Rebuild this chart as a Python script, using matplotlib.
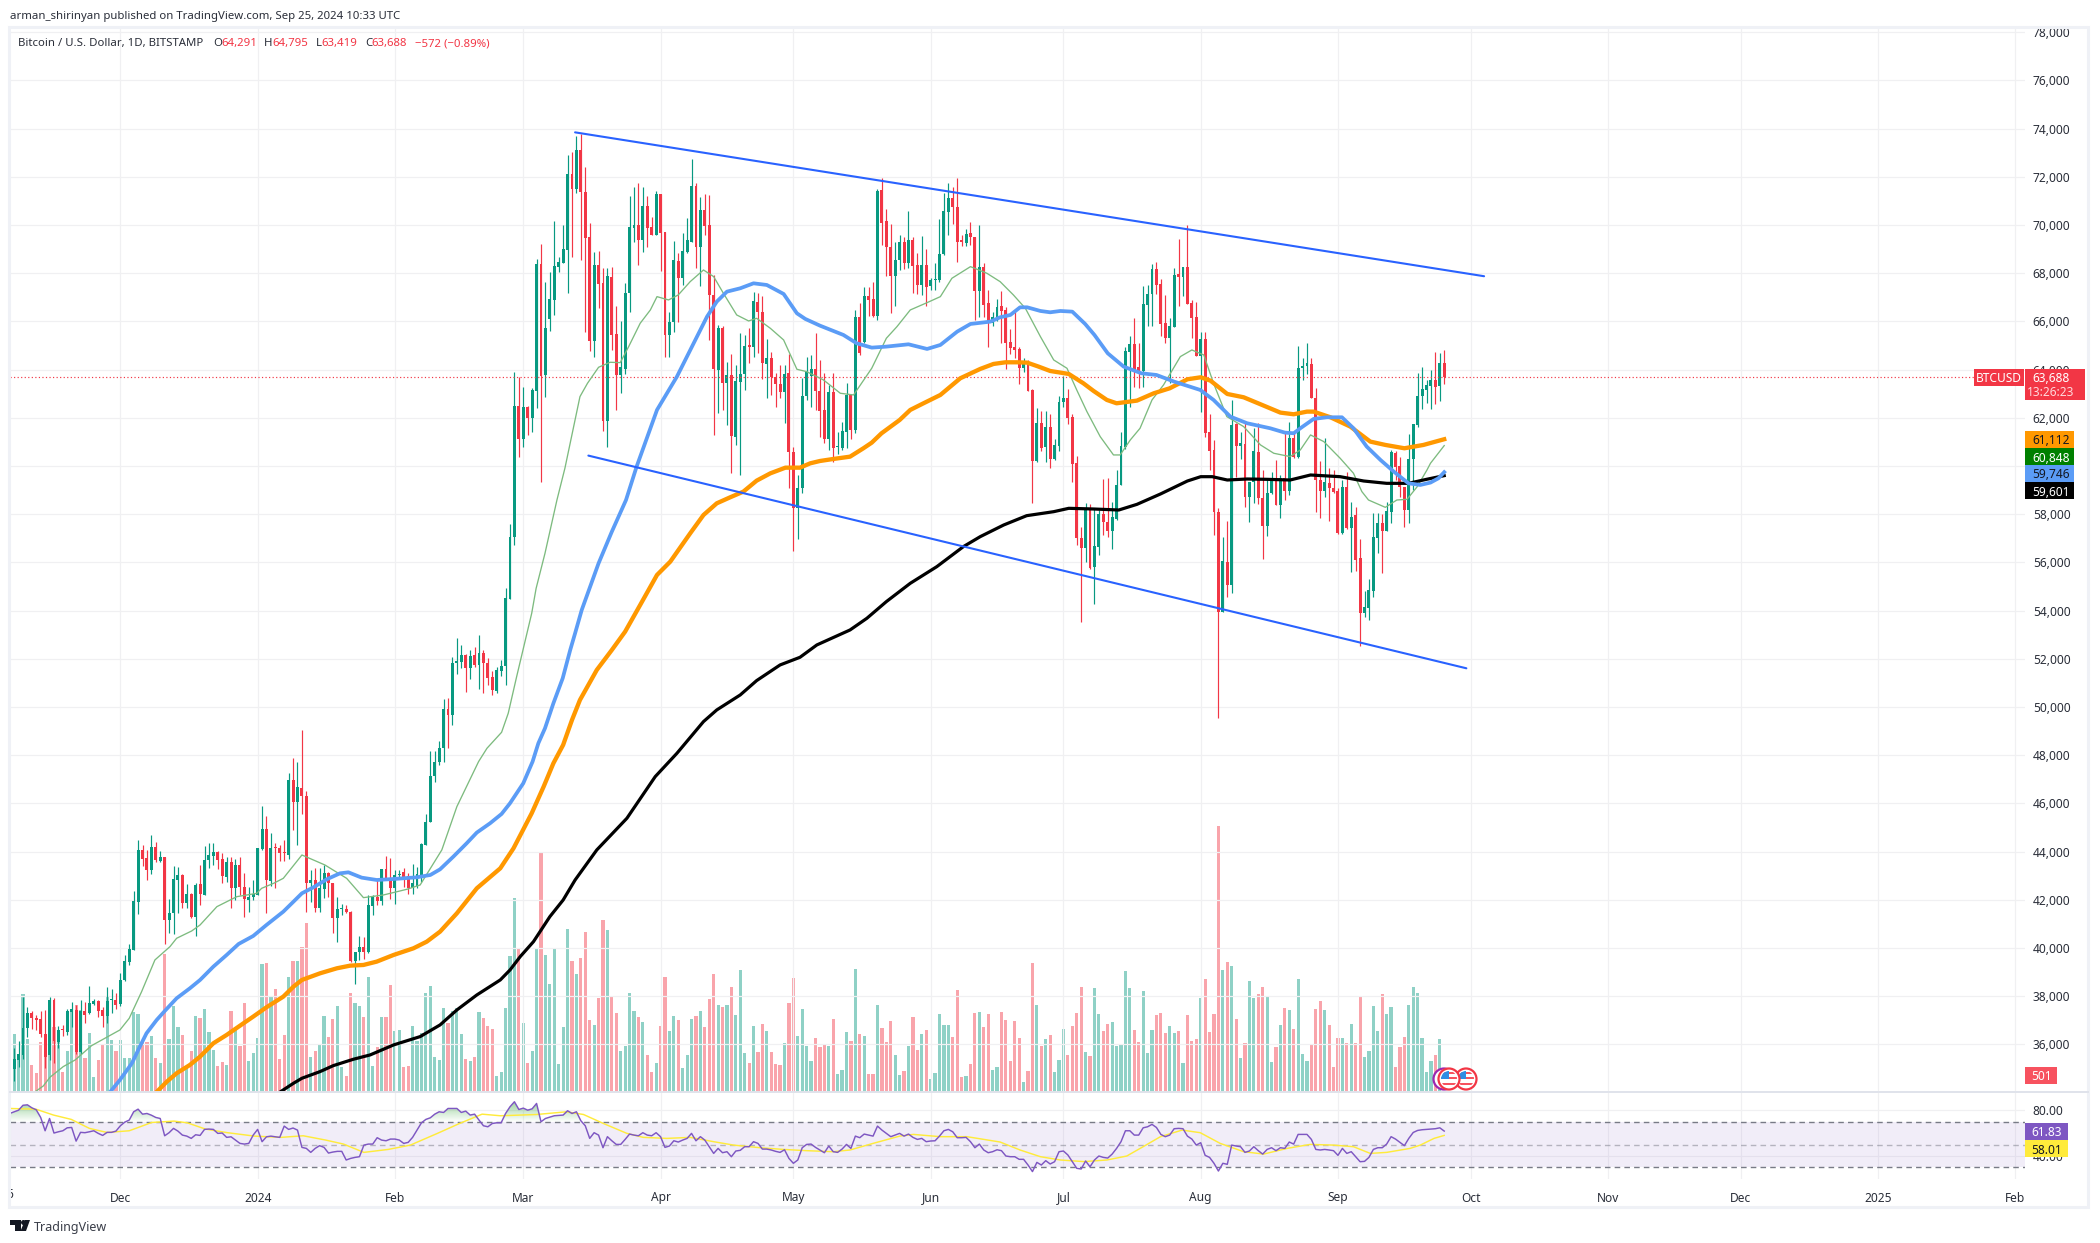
#!/usr/bin/env python
import numpy as np
import matplotlib
matplotlib.use('Agg')
import matplotlib.pyplot as plt
from matplotlib.patches import Rectangle, Circle, Polygon
from matplotlib.path import Path
from matplotlib.transforms import IdentityTransform
from matplotlib.ticker import FuncFormatter

plt.rcParams['font.family'] = ['Noto Sans', 'DejaVu Sans']

# day numbers count from 1 Dec 2023, rows are open, high, low, close
ohlc_nov23 = [
    [34990, 35840, 34490, 35380], [35350, 36150, 35080, 35600], [35560, 37980, 35380, 36670], [36670, 37565, 36320, 37290],
    [37290, 37400, 36650, 37080], [37095, 37220, 36600, 37010], [37050, 37385, 36320, 36430], [36430, 37430, 35000, 35490],
    [35550, 37950, 35350, 37840], [37840, 37910, 35215, 36150], [36110, 36780, 35865, 36600], [36600, 36800, 36350, 36590],
    [36530, 37470, 36390, 37385], [37350, 37770, 36735, 37460], [37430, 37635, 35600, 35700], [35700, 37840, 35600, 37385],
    [37385, 37770, 36870, 37220], [37290, 38420, 37240, 37700], [37680, 37870, 37630, 37800], [37800, 37840, 37150, 37400],
    [37430, 37540, 36710, 37180], [37180, 38400, 36880, 37800], [37830, 38300, 37290, 37850], [37840, 38120, 37470, 37635],
]
ohlc_dec23 = [
    [37680, 38950, 37610, 38670], [38650, 39710, 38620, 39446], [39430, 40165, 39300, 39940], [39915, 42350, 39915, 41936],
    [41920, 44480, 41410, 44065], [44065, 44260, 43415, 43690], [43720, 44065, 42820, 43235], [43235, 44690, 43070, 44190],
    [44190, 44410, 43580, 43650], [43620, 44020, 43580, 43760], [43760, 43790, 40165, 41160], [41160, 42020, 40635, 41440],
    [41440, 43400, 40580, 42850], [42820, 43375, 41440, 43030], [43030, 43070, 41645, 41880], [41880, 42655, 41645, 42230],
    [42230, 42300, 41260, 41300], [41300, 42680, 40510, 42610], [42640, 43440, 41780, 42230], [42200, 44240, 42200, 43640],
    [43650, 44340, 43300, 43860], [43820, 44370, 43440, 44000], [44000, 44030, 43280, 43650], [43690, 43930, 42710, 42990],
    [42960, 43790, 42720, 43570], [43570, 43760, 41645, 42475], [42475, 43680, 41990, 43440], [43440, 43760, 42200, 42520],
    [42540, 43100, 41300, 42020], [42000, 42540, 41500, 42130], [42100, 42820, 41990, 42230],
]
ohlc_jan24 = [
    [42200, 44130, 42200, 44130], [44110, 45890, 44070, 44940], [44940, 45475, 41440, 42820], [42790, 44760, 42570, 44130],
    [44190, 44370, 42500, 44130], [44160, 44290, 43620, 43950], [43970, 44480, 43600, 43930], [43860, 47250, 43700, 46970],
    [46960, 47870, 44900, 46070], [46070, 47720, 44275, 46670], [46630, 49050, 45560, 46320], [46300, 46520, 41500, 42680],
    [42680, 43235, 41920, 42820], [42820, 43305, 41500, 41670], [41645, 43305, 41500, 42475], [42435, 43440, 42060, 43125],
    [43125, 43170, 42130, 42680], [42680, 42710, 40610, 41230], [41230, 42100, 40260, 41600], [41600, 41810, 41370, 41650],
    [41620, 41790, 41440, 41480], [41510, 41540, 39430, 39460], [39460, 39850, 38500, 39820], [39820, 40500, 39500, 40030],
    [40030, 40470, 39530, 39850], [39850, 42200, 39780, 41770], [41755, 42200, 41370, 42100], [42100, 42820, 41780, 41960],
    [41960, 43280, 41780, 43280], [43280, 43820, 42830, 42860], [42890, 43720, 42020, 42500],
]
ohlc_feb24 = [
    [42500, 43235, 41825, 43030], [43030, 43235, 42890, 43060], [43165, 43330, 42520, 42890], [42990, 43130, 42240, 42475],
    [42475, 43470, 42240, 42680], [42560, 43375, 42470, 43070], [42990, 44340, 42750, 44315], [44275, 45560, 44270, 45245],
    [45245, 48180, 45245, 47140], [47140, 48180, 46900, 47730], [47730, 48590, 47595, 48290], [48290, 50330, 47730, 49920],
    [49920, 50360, 48315, 49670], [49670, 52090, 49250, 51840], [51840, 52850, 51370, 51910], [51880, 52570, 51630, 52160],
    [52160, 52190, 50640, 51630], [51630, 52370, 51160, 52120], [52160, 52490, 51670, 51750], [51750, 52990, 50750, 52230],
    [52230, 52370, 50600, 51810], [51810, 52020, 50915, 51220], [51230, 51490, 50500, 50700], [50680, 51650, 50600, 51540],
    [51510, 51950, 51300, 51700], [51720, 54940, 50915, 54510], [54500, 57590, 54480, 57040], [57040, 63900, 56720, 62500],
    [62500, 63680, 60390, 61125],
]
ohlc_mar24 = [
    [61125, 63300, 60770, 62440], [62440, 62500, 61290, 62010], [62010, 63255, 61430, 63160], [63130, 68580, 62400, 68370],
    [68370, 69215, 59320, 63750], [63780, 67625, 62850, 65720], [66100, 68040, 65620, 66920], [66890, 70170, 66270, 68300],
    [68275, 68660, 68070, 68455], [68440, 70000, 68420, 68995], [68965, 72910, 67170, 72120], [72120, 73045, 68660, 71480],
    [71480, 73700, 71345, 73115], [73115, 73780, 68550, 71360], [71360, 72420, 65580, 69480], [69490, 70070, 64790, 65205],
    [65205, 68900, 64540, 68340], [68340, 68940, 66570, 67555], [67580, 68200, 61470, 61885], [61885, 68200, 60770, 67890],
    [67830, 68275, 64820, 65440], [65480, 66640, 62330, 63780], [63780, 66020, 63050, 64100], [64040, 67580, 63820, 67200],
    [67200, 71205, 66410, 69905], [69865, 71595, 69285, 70000], [70000, 71730, 68345, 69380], [69380, 71595, 68900, 70790],
    [70790, 71205, 69105, 69890], [69905, 70320, 69580, 69590], [69590, 71415, 69580, 71290],
]
ohlc_apr24 = [
    [71290, 71300, 68110, 69685], [69700, 69710, 64540, 65440], [65440, 66410, 64540, 65990], [65965, 69340, 65580, 68550],
    [68510, 68830, 65990, 67820], [67820, 69660, 67515, 68925], [68895, 70310, 68855, 69380], [69310, 72730, 69300, 71620],
    [71620, 71760, 68235, 69105], [69075, 71150, 67490, 70625], [70625, 71290, 69590, 69960], [69990, 71250, 65230, 67100],
    [67100, 67930, 61290, 64040], [63990, 65855, 62190, 65720], [65720, 65830, 62330, 63430], [63430, 64330, 61705, 63780],
    [63780, 64650, 59700, 61265], [61220, 64195, 60880, 63530], [63500, 65510, 59630, 63830], [63830, 65440, 63160, 64985],
    [65000, 65720, 64260, 64960], [64930, 67240, 64540, 66850], [66825, 67170, 64680, 66410], [66380, 67060, 63600, 64260],
    [64235, 65260, 62810, 64470], [64470, 64750, 62950, 63710], [63710, 63850, 62440, 63405], [63405, 64195, 62810, 63090],
    [63090, 64195, 61775, 63810], [63850, 64650, 59075, 60600],
]
ohlc_may24 = [
    [60600, 60775, 56490, 58245], [58245, 59630, 56960, 59075], [59075, 63640, 58870, 62910], [62910, 64510, 62740, 63890],
    [63740, 64610, 62465, 64010], [64015, 65510, 62330, 63130], [63130, 64400, 61220, 62300], [62330, 63880, 60945, 61125],
    [61125, 63365, 60670, 63075], [63075, 63850, 60185, 60740], [60790, 61430, 60490, 60820], [60765, 61840, 60670, 61460],
    [61430, 63435, 60740, 62950], [62950, 63000, 61120, 61495], [61495, 66480, 61360, 66200], [66200, 66750, 64610, 64680],
    [65165, 67445, 65120, 67060], [67060, 67420, 66240, 66890], [66920, 67625, 66200, 66240], [66225, 71500, 66060, 71415],
    [71455, 71940, 69170, 70100], [70155, 70655, 67900, 69105], [69105, 70045, 66370, 67900], [67900, 69285, 66640, 68550],
    [68550, 69590, 68135, 69285], [69285, 69520, 68165, 68440], [68440, 70585, 68205, 69380], [69380, 69520, 67170, 68315],
    [68345, 68830, 67140, 67515], [67515, 69550, 67100, 68345], [68345, 68995, 66660, 67445],
]
ohlc_jun24 = [
    [67475, 67790, 67310, 67720], [67720, 68415, 67310, 67750], [67720, 70250, 67625, 68785], [68785, 71315, 68770, 70585],
    [70555, 71730, 69590, 71110], [71110, 71595, 70045, 70735], [70765, 71940, 68480, 69310], [69340, 69590, 69130, 69310],
    [69270, 69825, 69130, 69620], [69660, 70140, 69175, 69490], [69490, 69500, 66060, 67280], [67280, 70000, 66200, 68245],
    [68245, 68415, 66200, 66685], [66755, 67305, 64960, 65950], [65950, 66410, 65810, 66170], [66170, 66920, 66035, 66615],
    [66640, 67265, 65090, 66450], [66475, 66600, 64030, 65120], [65135, 65690, 64640, 64915], [64930, 66435, 64470, 64815],
    [64845, 64955, 63400, 64070], [64070, 64470, 63920, 64235], [64235, 64400, 63130, 63130], [63160, 63180, 58480, 60225],
    [60225, 62400, 60180, 61775], [61775, 62300, 60640, 60760], [60805, 62300, 60180, 61610], [61610, 62160, 59935, 60280],
    [60280, 61110, 60260, 60875], [60835, 62910, 60640, 62645],
]
ohlc_jul24 = [
    [62645, 63750, 62465, 62810], [62810, 63185, 61745, 62010], [62050, 62160, 59350, 60090], [60140, 60420, 56720, 57030],
    [57000, 57450, 53540, 56610], [56610, 58480, 56030, 58270], [58270, 58425, 55740, 55755], [55825, 58245, 54275, 56680],
    [56655, 58175, 56310, 58010], [58010, 59460, 57140, 57690], [57690, 59490, 57070, 57305], [57305, 58520, 56560, 57870],
    [57790, 59840, 57760, 59210], [59215, 61400, 59210, 60835], [60805, 64955, 60695, 64775], [64750, 65395, 62465, 65065],
    [65065, 66130, 63300, 63990], [64125, 65095, 63225, 63920], [63945, 67470, 63300, 66710], [66685, 67515, 65825, 67125],
    [67140, 68370, 65825, 68180], [68180, 68470, 67125, 67515], [67555, 67760, 65410, 65895], [65925, 67100, 65120, 65300],
    [65330, 66130, 63435, 65815], [65785, 68205, 65760, 67915], [67955, 69410, 66640, 67860], [67830, 68275, 67060, 68275],
    [68245, 70000, 66725, 66725], [66755, 66890, 65330, 66160], [66185, 66795, 64570, 64570],
]
ohlc_aug24 = [
    [64570, 65550, 62260, 65275], [65275, 65550, 61220, 61390], [61400, 62160, 59840, 60625], [60665, 61080, 57140, 58105],
    [58105, 58245, 49560, 53960], [53960, 57040, 53960, 56060], [56005, 57720, 54580, 55065], [55065, 62740, 54745, 61705],
    [61745, 61790, 59560, 60850], [60835, 61430, 60280, 60945], [60920, 61840, 58315, 58700], [58700, 59350, 57690, 59320],
    [59320, 61565, 58480, 60625], [60585, 61775, 58440, 58660], [58660, 59840, 56140, 57525], [57525, 59500, 57110, 58865],
    [58865, 59770, 58840, 59490], [59490, 60250, 58380, 58395], [58385, 59630, 57860, 59490], [59490, 61430, 58590, 58975],
    [58975, 61815, 58800, 61150], [61150, 61430, 60340, 60365], [60365, 64980, 60340, 64055], [64075, 64500, 63575, 64150],
    [64165, 65090, 63820, 64265], [64220, 64470, 62820, 62840], [62810, 63225, 58105, 59420], [59420, 60225, 57860, 58975],
    [58975, 61150, 58730, 59350], [59310, 59905, 57730, 59075], [59075, 59835, 58890, 58935],
]
ohlc_sep24 = [
    [58980, 59075, 57180, 57235], [57235, 59420, 57180, 59115], [59115, 59765, 57370, 57415], [57415, 58495, 55615, 57900],
    [57970, 58285, 55645, 56100], [56170, 56960, 52547, 53890], [53890, 54815, 53750, 54135], [54120, 55300, 53610, 54855],
    [54830, 58035, 54580, 57040], [57030, 58035, 56405, 57620], [57620, 58010, 55575, 57320], [57320, 58520, 57300, 58150],
    [58105, 60665, 57650, 60600], [60530, 60625, 59420, 59970], [60005, 60390, 58730, 59115], [59115, 59145, 57485, 58175],
    [58175, 61310, 57650, 60280], [60280, 61745, 59010, 61745], [61705, 63850, 61640, 62925], [62925, 64100, 62370, 63185],
    [63160, 63570, 62605, 63350], [63340, 63985, 62370, 63575], [63575, 64720, 62560, 63295], [63325, 64710, 62715, 64280],
    [64291, 64795, 63419, 63688],
]

vol_a = [174, 110, 294, 158, 81, 56, 150, 174, 226, 196, 156, 61, 124, 246, 261, 246, 101, 176, 46, 96, 144, 286, 156, 123,
         156, 101, 103, 240, 234, 156, 151, 168, 103, 88, 414, 159, 258, 196, 171, 76, 124, 228, 221, 249, 180, 126, 78, 91,
         81, 244, 196, 138, 268, 94, 118, 162, 384, 387, 286, 309, 99, 171, 346, 393, 393, 436, 508, 106, 123, 141, 228, 165,
         219, 258, 76, 48, 298, 268, 258, 225, 346, 78, 135, 225, 225, 321, 184, 186, 76, 78, 198, 154, 176, 298, 318, 106,
         96, 252, 208, 243, 252, 174, 99, 93, 105, 240, 221, 198, 188, 48]
vol_b = [61, 251, 408, 582, 429, 206, 87, 123, 429, 717, 411, 324, 429, 84, 195, 489, 393, 354, 402, 480, 216, 201, 282, 516,
         486, 288, 237, 123, 138, 297, 243, 225, 210, 111, 60, 87, 198, 345, 183, 228, 216, 72, 111, 219, 228, 243, 195, 279,
         354, 261, 255, 261, 315, 231, 366, 117, 87, 198, 120, 204, 183, 120, 84, 81, 147, 267, 342, 168, 249, 138, 93, 162,
         135, 144, 138, 219, 54, 66, 180, 153, 369, 174, 168, 54, 54, 261, 192, 150, 213, 111, 51, 63, 138, 225, 126, 174,
         186, 39, 57, 234, 201, 201, 165, 306, 45, 48, 84, 237, 240, 195, 234, 66, 75]
vol_c = [240, 216, 93, 213, 162, 30, 63, 387, 261, 138, 159, 171, 60, 96, 189, 111, 198, 237, 315, 120, 108, 312, 234, 183,
         204, 210, 138, 144, 363, 312, 186, 150, 303, 117, 186, 231, 237, 177, 198, 177, 183, 87, 231, 153, 159, 282, 339,
         180, 234, 798, 366, 390, 378, 219, 102, 147, 333, 282, 294, 315, 288, 90, 135, 201, 252, 246, 189, 339, 114, 93,
         144, 249, 273, 246, 201, 75, 162, 162, 147, 204, 147, 288, 105, 123, 258, 183, 294, 234, 255, 75, 135, 165, 261,
         315, 297, 162, 60, 93, 111, 159, 3]
vol_side_a = ('ggggrrrrgrgrggrgrggrrggr' 'gggggrrgrgrgggrgrgrgggrr' 'grgrrggggrgrrrgrgrrgrggr' 'rggrrggrggrgrrggrrgggggg' 'ggrgggrgrgrrrg')
vol_side_b = ('ggggrgrggrggggggrgrrrgrr' 'grrggggrgrrgrrggrgggrgrr' 'rgrgrgggrgrrgrrrgrrggggr' 'rrgrgggrgrgrrgrrrggrgrrg' 'rgggggrrrgrrgrrgg')
vol_side_c = ('rrrrrgrrgrgrgggrrrrgrggr' 'rgggggrrgggrrrggrgrrrgrr' 'rrgrgrgrggrrggrgrgrgggrr' 'rgrrrgrgrrggggrggrrrgggg' 'ggrgr')

days_ma_blue = [-2.3, -0.1, 2.6, 4.4, 5.9, 8.2, 10.1, 12.7, 15.7, 18, 21, 24, 26.7, 30, 33, 36.8, 39.1, 41, 43.6, 46.6, 49.6,
                51.5, 54.5, 57.9, 61.7, 66.9, 70, 72.2, 75.2, 78.2, 80.5, 83.5, 86.1, 88, 91, 93.1, 94.4, 95.9, 97.8, 99.9,
                101.6, 102.7, 104.2, 106.1, 108, 111, 114.2, 116.6, 121.2, 125.7, 129.1, 132.5, 134.7, 137, 140, 143, 146,
                149.8, 152.8, 154.7, 158, 163.3, 166.3, 169.7, 173, 178, 182.2, 185.2, 189, 192, 196.5, 198.7, 201, 203.2,
                204.8, 207.8, 210, 212.3, 215, 217.9, 220, 223, 226.6, 230.6, 234, 238, 243.9, 246.9, 250.7, 254.5, 259.7,
                263, 265, 266.5, 269.5, 272.5, 275.9, 278.5, 281.5, 284.6, 287.6, 290.9, 293.6, 295.9, 297.7, 299]
ma_blue = [34025, 34523, 35214, 35906, 36459, 37012, 37399, 37911, 38326, 38672, 39225, 39709, 40165, 40497, 40954, 41507, 41922,
           42268, 42517, 42848, 43097, 43139, 42918, 42821, 42862, 42931, 43028, 43263, 43789, 44342, 44788, 45175, 45562,
           46005, 46835, 47733, 48494, 49116, 50154, 51191, 52366, 53058, 54026, 54994, 55962, 57276, 58590, 59977, 62328,
           63711, 64956, 66200, 66823, 67238, 67376, 67583, 67514, 67141, 66338, 66104, 65827, 65440, 65094, 64914, 64956,
           65052, 64859, 65025, 65578, 65896, 65993, 66173, 66269, 66587, 66587, 66435, 66380, 66435, 66407, 65896, 65440,
           64679, 64125, 63849, 63780, 63503, 63157, 62743, 62050, 61775, 61567, 61387, 61360, 61567, 61955, 62023, 62023,
           61567, 60806, 60253, 59770, 59285, 59215, 59313, 59493, 59746]

days_ma_orange = [8.2, 10.5, 12.7, 15.7, 18, 21, 24, 27.8, 30, 33, 36.8, 39.1, 41, 45.1, 48.9, 51.9, 54.9, 57.9, 61.7, 66.2, 69.2,
                  72.2, 76, 80.5, 85.8, 88.8, 92.9, 95.6, 97.8, 100, 102, 103.8, 107.6, 111, 114, 117.4, 121.2, 124.2, 128.7,
                  131.7, 134.7, 137.7, 140.7, 143.7, 146.8, 150.2, 153.5, 155.8, 158, 161, 164.8, 167.8, 169.7, 171.9, 176,
                  178.4, 181.4, 185.2, 189.7, 194.2, 197.2, 199.9, 202.5, 204.8, 207.4, 210, 214.2, 217.5, 219.8, 222.8, 225,
                  229.6, 233.4, 237, 241, 244, 246.2, 250, 253.7, 257.5, 262, 265, 268, 269.5, 273.3, 277.8, 282.3, 285.7,
                  290, 294.3, 299]
ma_orange = [34025, 34453, 34799, 35145, 35491, 36044, 36390, 36874, 37150, 37538, 37980, 38395, 38672, 38948, 39156, 39266, 39294,
             39433, 39709, 39986, 40262, 40677, 41438, 42475, 43305, 44138, 45590, 46696, 47665, 48425, 49462, 50292, 51537,
             52366, 53127, 54234, 55479, 56032, 57208, 57968, 58453, 58700, 58937, 59393, 59697, 59932, 59932, 60112, 60209,
             60292, 60389, 60735, 60970, 61357, 61910, 62328, 62605, 62950, 63642, 64029, 64236, 64305, 64305, 64291, 64125,
             63945, 63821, 63434, 63116, 62743, 62604, 62715, 63019, 63226, 63600, 63683, 63544, 62991, 62853, 62563, 62217,
             62148, 62258, 62258, 62023, 61636, 61014, 60876, 60737, 60875, 61112]

days_ma_black = [36.1, 39.1, 41, 45.1, 48.1, 52.6, 56.4, 61.7, 67.7, 72.2, 76, 80.5, 85.8, 88, 90.3, 93.3, 97, 100, 102.7, 107.6,
                 114.4, 120.8, 125.7, 131.7, 134.7, 140, 143.7, 149, 153.5, 157.3, 164.8, 168.6, 173, 178.4, 184.4, 190.4,
                 194.2, 199.5, 204.7, 210.8, 214.2, 219.8, 225.5, 229.6, 234.9, 241, 244, 246.6, 250, 254.5, 259, 264.2,
                 268.8, 275.5, 280.8, 286, 290.9, 295, 299]
ma_black = [34025, 34385, 34592, 34869, 35117, 35380, 35560, 35975, 36321, 36805, 37427, 38049, 38672, 39086, 39639, 40262, 41299,
            41990, 42820, 44068, 45382, 47111, 48079, 49394, 49878, 50500, 51095, 51745, 52063, 52575, 53197, 53681, 54373,
            55133, 55825, 56655, 57069, 57553, 57940, 58106, 58245, 58217, 58175, 58410, 58839, 59379, 59558, 59558, 59420,
            59462, 59448, 59420, 59628, 59558, 59379, 59282, 59282, 59448, 59601]

days_ma_green = [-19.3, -17.4, -15.9, -12.9, -10.2, -6.5, -0.1, 2, 4.8, 7.8, 11.2, 12.7, 16.1, 18, 21.8, 24.8, 26.3, 30.8, 31.9,
                 34.6, 36.8, 41, 46.2, 51.1, 54.9, 59.4, 64.7, 67.7, 72.6, 76, 80.9, 82.8, 86.1, 87.6, 89.5, 92.9, 93.9, 95.9,
                 98.6, 100.4, 103.8, 105.5, 108, 110.6, 112.9, 114.8, 117.4, 119.7, 121.2, 123.8, 126, 128.7, 131.7, 134,
                 136.2, 139.2, 141.9, 143.7, 146.8, 149.8, 152.8, 155, 158.8, 162.6, 165.6, 169.7, 173, 175.4, 178.4, 182.2,
                 185.2, 187.8, 192, 195.7, 198.7, 201.7, 204.4, 207.8, 210.8, 213.8, 216, 218.3, 221.3, 224.3, 225.8, 228.1,
                 230.3, 233, 235.6, 239.4, 242, 244.7, 246.9, 249.9, 253.7, 257.5, 260.5, 264.2, 266.5, 268.8, 271.8, 275.5,
                 278.5, 280.4, 281.9, 285.7, 288.3, 290.6, 292.9, 295.1, 295.9, 299]
ma_green = [34025, 34274, 34634, 35076, 35353, 35947, 36597, 37081, 38188, 39502, 40055, 40401, 40705, 40954, 41714, 41991, 42129,
            42267, 42475, 42682, 42890, 43858, 43443, 42890, 42088, 42198, 42434, 42613, 44068, 45866, 47733, 48287, 48950,
            49739, 51260, 53888, 54925, 56377, 58590, 59908, 62881, 63434, 64098, 64306, 64292, 64956, 65924, 66477, 67030,
            66892, 67100, 67653, 68137, 67860, 67168, 66270, 66020, 66131, 65716, 65232, 64015, 63918, 63573, 63020, 62950,
            64057, 65302, 65786, 66477, 66781, 67030, 67791, 68275, 68000, 67652, 67099, 66546, 65370, 64402, 64056, 63157,
            62258, 61221, 60460, 60460, 61083, 61567, 62743, 63365, 64541, 64817, 64610, 63434, 62051, 61636, 60876, 60530,
            60391, 60668, 61290, 61014, 60322, 59700, 58939, 58590, 58286, 58590, 58618, 59143, 59835, 60115, 60848]

# trend channel, day and price of both ends
upper_days = [102.7, 308]
upper_prices = [73848, 67877]
lower_days = [105.7, 304]
lower_prices = [60433, 51606]

# RSI per day from 6 Nov 2023
rsi_values = [77.3, 78.8, 80.2, 84.5, 84.9, 82.3, 80.5, 73.8, 62.1, 72.9, 60.1, 61.2, 62.1, 64.7, 65, 53, 60.7, 60.4, 61.2, 62.1,
              59.8, 58, 60.7, 60.7, 61.8,
              66.5, 69.7, 71.5, 78.8, 81.1, 76.7, 77.3, 75.8, 73.8, 72.9, 57.7, 60.4, 64.2, 61.8, 58.3, 57.4, 55.4, 58.6, 58,
              63.3, 63.6, 63.3, 59.8, 60.1, 56.3, 56.8, 53.9, 51, 50.4, 51, 58.3, 63.3, 52.5, 56.8, 57.4, 56.8, 56.3, 66.2, 63.3,
              64.5, 62.7, 47.5, 46.6, 43.1, 46.6, 49, 47.5, 42.5, 43.4, 44, 44, 36.4, 37.8, 38.7, 39.3, 49.5, 50.4, 50.4, 56,
              53.9, 53.3, 54.8, 54.8, 53.9, 51, 51.9, 56.3, 62.7, 69.1, 72.1, 73.5, 76.7, 78.8, 78.2, 81.7, 81.7, 81.7, 78.2,
              79.4, 75.9, 76.7, 71.5, 66.5, 65.6, 68.5, 69.1,
              69.1, 77.3, 83.2, 87.6, 80.8, 82, 80.2, 81.4, 86.1, 70, 72.9, 74.1, 75.3, 75.6, 75.9, 79.7, 77.3, 78.8, 70.9, 66.5,
              55.4, 60.4, 58.3, 47.2, 56.9, 53.3, 50.1, 50.1, 54.5, 59.2, 58.3, 57.7, 60.4, 58.3, 57.7, 60.4, 56.9, 47.5, 48.7,
              53.3, 52.2, 53.9, 55.4, 59.8, 53.3, 56.9, 53.9, 48.1, 42.2, 46.6, 42.8, 43.7, 39.3, 44.3, 44.9, 48.1, 48.1, 52.5,
              51, 46, 46, 45.2, 44, 43.1, 45.4, 37.8, 33.5, 36.4, 47.2, 50.1, 50.4, 47.5, 45.2, 42.8, 48.7, 43.7, 43.1, 46, 50.1,
              46.6, 57.4, 56, 59.2, 58.3, 57.4, 66.2, 62.7, 59.8, 56.9, 58.3, 59.8, 57.4, 59.2, 56.3, 54.5, 55.4, 52.5, 53.1,
              53.3, 57.4, 62.1, 63.3, 61.2, 56, 56, 56.3, 52.5, 47.2, 50.4, 45.2, 42.8, 43.7, 45.4,
              44.6, 39.9, 39.3, 39.3, 37, 37, 32, 26.2, 34.3, 32, 35.8, 32.9, 34.9, 43.7, 44.3, 40.8, 34.9, 29.1, 28.5, 35.5, 30.5,
              36.4, 39.9, 38.7, 38.1, 41.6, 46.6, 52.5, 62.1, 62.1, 58.3, 58.3, 64.7, 65.6, 67.7, 65, 58.9, 56.9, 58.3, 63.9, 64.2,
              63.9, 57.4, 54.8, 49.5, 51.6, 40.5, 38.7, 33.5, 26.7, 33.5, 32.6, 49.5, 48.7, 48.1, 43.1, 44.3, 48.1, 44.6, 41.6,
              45.7, 47.2, 44.6, 47.2, 46.6, 52.2, 50.4, 58.9, 58.9, 58.9, 54.5, 45.7, 45.2, 45.7, 45.2, 44.6, 40.5, 46.6, 42.2,
              43.7, 39.3, 34.9, 35.2, 38.7, 45.7, 47.2, 47.2, 50.4, 56.9, 54.8, 51.9, 49, 55.4, 60.6, 62.4, 63, 63.3, 63.6, 63.9,
              64.7, 61.83]

days_rsi_ma = [-25, -19.1, -15.1, -11.1, -7, -3, 2, 7.1, 12.1, 15.1, 19.2, 24.2, 30.3, 36.3, 41.3, 46.4, 50.4, 55, 60.5, 65.5, 71.6,
               76.6, 81.7, 85.8, 94, 100.8, 104.6, 109.1, 114.4, 118.1, 123.4, 128.7, 134, 138.5, 144.5, 149.8, 155, 161, 164.8,
               170, 176, 179.1, 185.2, 191.2, 198.7, 203.2, 207.8, 212.3, 217.6, 222.8, 227.3, 231, 234.9, 239.8, 243.9, 248.4,
               253.7, 258.2, 263.5, 268.7, 274, 278.5, 282.3, 286, 291.3, 293.6, 296.7, 299]
rsi_ma = [81.7, 81.1, 75.9, 72.1, 64.2, 60.6, 62.1, 69.4, 70.6, 69.1, 63.6, 60.4, 57.4, 56.3, 57.7, 53.9, 50.4, 43.1, 45.7, 49.5, 59.8,
          68.5, 76.7, 75.3, 76.4, 78.8, 76.4, 68.5, 59.8, 56.3, 55.4, 56.3, 52.5, 49.5, 47.2, 45.7, 44.6, 43.7, 45.2, 51, 57.4, 58.9,
          56.9, 56.9, 52.2, 45.2, 39.3, 36.4, 35, 36.4, 39.9, 48.1, 56.9, 62.7, 60.4, 51, 43.7, 41.6, 46.6, 50.1, 49.5, 48.1, 42.2,
          43.1, 46.6, 49.5, 55.4, 58.01]

time_tick_days = [0, 31, 62, 91, 122, 152, 183, 213, 244, 275, 305, 336, 366, 397, 428]
time_tick_labels = ['Dec', '2024', 'Feb', 'Mar', 'Apr', 'May', 'Jun', 'Jul', 'Aug', 'Sep', 'Oct', 'Nov', 'Dec', '2025', 'Feb']
price_ticks = list(range(36000, 80000, 2000))
rsi_ticks = [80, 40]

last_close = 63688
UP = '#089981'
DOWN = '#f23645'
TXT = '#2a2e39'
W, H = 2100, 1243


def rect(x0, y0, x1, y1):
    # pixel box, top left origin, as figure fractions
    return [x0 / W, 1 - y1 / H, (x1 - x0) / W, (y1 - y0) / H]


def box_label(x0, y0, x1, y1, color, txt, tcolor='white', tx=None):
    fig.add_artist(Rectangle((x0 / W, 1 - y1 / H), (x1 - x0) / W, (y1 - y0) / H, transform=fig.transFigure,
                             facecolor=color, edgecolor='none', zorder=6))
    fig.text((tx if tx else (x0 + x1) / 2) / W, 1 - (y0 + y1) / 2 / H, txt, color=tcolor, fontsize=8.6,
             ha='center', va='center_baseline', zorder=7)


def flag(cx, cy, r=10.5):
    y = H - cy
    ring = Circle((cx, y), r, transform=IdentityTransform(), facecolor='white', edgecolor='#f23645', linewidth=1.6, zorder=5)
    fig.add_artist(ring)
    for off in [-5, 1, 6]:
        s = Rectangle((cx - r, y + off - 1.3), 2 * r, 2.8, transform=IdentityTransform(), facecolor='#f7525f', edgecolor='none', zorder=5)
        fig.add_artist(s)
        s.set_clip_path(Circle((cx, y), r - 2.5, transform=IdentityTransform()))
    c = Rectangle((cx - r, y), r, r, transform=IdentityTransform(), facecolor='#2f8de4', edgecolor='none', zorder=5)
    fig.add_artist(c)
    c.set_clip_path(Circle((cx, y), r - 2.5, transform=IdentityTransform()))


ohlc = np.array(ohlc_nov23 + ohlc_dec23 + ohlc_jan24 + ohlc_feb24 + ohlc_mar24 + ohlc_apr24 + ohlc_may24 + ohlc_jun24 + ohlc_jul24
                + ohlc_aug24 + ohlc_sep24, dtype=float)
days = np.arange(-24, -24 + len(ohlc))

opens, highs, lows, closes = ohlc.T
vol = np.array(vol_a + vol_b + vol_c, dtype=float)
vol_side = vol_side_a + vol_side_b + vol_side_c
rsi = np.array(rsi_values)
rsi_days = np.arange(-25, -25 + len(rsi))

fig = plt.figure(figsize=(21, 12.43), dpi=100, facecolor='white')

XLIM = (-24.93, 430.06)
ax_vol = fig.add_axes(rect(10, 29, 2024.5, 1092), zorder=1)
ax = fig.add_axes(rect(10, 29, 2024.5, 1092), zorder=2)
ax_rsi = fig.add_axes(rect(10, 1093, 2024.5, 1179), zorder=2)
ax.patch.set_visible(False)

ax_vol.set_xlim(XLIM)
ax_vol.set_ylim(0, 3189)
ax_vol.axis('off')
vol_colors = [UP if s == 'g' else DOWN for s in vol_side]
ax_vol.bar(days, vol, width=0.72, color=vol_colors, alpha=0.45, linewidth=0)

ax.set_xlim(XLIM)
ax.set_ylim(34022, 78137)
ax.set_yticks(price_ticks)
ax.yaxis.tick_right()
ax.yaxis.set_major_formatter(FuncFormatter(lambda v, p: f'{int(v):,}'))
ax.tick_params(axis='y', length=0, pad=6, labelsize=8.6, labelcolor=TXT)
ax.set_xticks(time_tick_days)
ax.tick_params(axis='x', length=0, labelbottom=False)
ax.grid(True, color='#f0f0f2', linewidth=0.9)
ax.set_axisbelow(True)
for s in ax.spines.values():
    s.set_visible(False)

colors = np.where(closes >= opens, UP, DOWN)
ax.vlines(days, lows, highs, colors=colors, linewidth=0.85, zorder=3)
body = np.maximum(np.abs(closes - opens), 50)
ax.bar(days, body, bottom=np.minimum(opens, closes), width=0.66, color=colors, linewidth=0, zorder=3)

ax.axhline(last_close, color=DOWN, linewidth=0.85, linestyle=(0, (1, 2)), zorder=3)

ax.plot(days_ma_green, ma_green, color='#7dbb7f', linewidth=0.95, zorder=4)
ax.plot(days_ma_black, ma_black, color='black', linewidth=2.3, zorder=4)
ax.plot(days_ma_orange, ma_orange, color='#ff9800', linewidth=3.1, zorder=4)
ax.plot(days_ma_blue, ma_blue, color='#5b9cf6', linewidth=2.7, zorder=4)
ax.plot(upper_days, upper_prices, color='#2962ff', linewidth=1.5, zorder=5, solid_capstyle='round')
ax.plot(lower_days, lower_prices, color='#2962ff', linewidth=1.5, zorder=5, solid_capstyle='round')

# RSI pane
ax_rsi.set_xlim(XLIM)
ax_rsi.set_ylim(19.7, 95.3)
ax_rsi.set_xticks(time_tick_days)
ax_rsi.set_xticklabels(time_tick_labels)
ax_rsi.set_yticks(rsi_ticks)
ax_rsi.set_yticklabels(['80.00', '40.00'])
ax_rsi.yaxis.tick_right()
ax_rsi.tick_params(axis='y', length=0, pad=6, labelsize=8.6, labelcolor=TXT)
ax_rsi.tick_params(axis='x', length=0, pad=9, labelsize=8.6, labelcolor=TXT)
for lab, txt in zip(ax_rsi.get_xticklabels(), time_tick_labels):
    if txt.startswith('20'):
        lab.set_fontweight('bold')
ax_rsi.grid(True, color='#f0f0f2', linewidth=0.9)
ax_rsi.set_axisbelow(True)
for s in ax_rsi.spines.values():
    s.set_visible(False)
ax_rsi.axhspan(30, 70, color='#7e57c2', alpha=0.1, linewidth=0, zorder=1)
for level, a in [(70, 1), (50, 0.5), (30, 1)]:
    ax_rsi.axhline(level, color='#787b86', linewidth=1.0, linestyle=(0, (4, 3)), alpha=a, zorder=2)

over = ax_rsi.fill_between(rsi_days, 70, rsi, where=rsi > 70, interpolate=True, color='none', linewidth=0)
grad = np.zeros((64, 2, 4))
grad[..., 0:3] = matplotlib.colors.to_rgb('#4caf50')
grad[..., 3] = np.linspace(0.55, 0.0, 64)[:, None]
im = ax_rsi.imshow(grad, extent=(XLIM[0], XLIM[1], 70, 88), aspect='auto', origin='upper', zorder=2)
im.set_clip_path(Path.make_compound_path(*over.get_paths()), transform=ax_rsi.transData)
ax_rsi.set_xlim(XLIM)
ax_rsi.set_ylim(19.7, 95.3)

ax_rsi.plot(days_rsi_ma, rsi_ma, color='#ffeb3b', linewidth=1.05, zorder=3)
ax_rsi.plot(rsi_days, rsi, color='#7e57c2', linewidth=1.05, zorder=4)

# the clipped date at the left edge
fig.text(10 / W, 1 - 1193 / H, '6', color=TXT, fontsize=8.6, ha='center', va='center_baseline', zorder=3)
fig.add_artist(Rectangle((0, 1 - 1205 / H), 10 / W, 24 / H, transform=fig.transFigure, facecolor='white', edgecolor='none', zorder=4))

# frame round the chart and pane separator
fig.add_artist(Rectangle((9 / W, 1 - 1207 / H), 2079 / W, 1180 / H, transform=fig.transFigure, facecolor='none',
                         edgecolor='#eff1f6', linewidth=2.2, zorder=5))
fig.add_artist(plt.Line2D([10 / W, 2088 / W], [1 - 1092 / H] * 2, transform=fig.transFigure, color='#e0e3eb', linewidth=1.4, zorder=5))

fig.text(10 / W, 1 - 15 / H, 'arman_shirinyan published on TradingView.com, Sep 25, 2024 10:33 UTC', color=TXT, fontsize=8.2,
         ha='left', va='center_baseline')
fig.text(18 / W, 1 - 42 / H, 'Bitcoin / U.S. Dollar, 1D, BITSTAMP', color=TXT, fontsize=8.2, ha='left', va='center_baseline', zorder=7)
for x, s, c in [(213, 'O', TXT), (221, '64,291', DOWN), (264, 'H', TXT), (272, '64,795', DOWN), (316, 'L', TXT), (321, '63,419', DOWN),
                (365, 'C', TXT), (371, '63,688', DOWN), (415, '−572 (−0.89%)', DOWN)]:
    fig.text(x / W, 1 - 42 / H, s, color=c, fontsize=8.2, ha='left', va='center_baseline', zorder=7)

# right hand labels
box_label(1974, 369, 2024, 386, '#f23645', 'BTCUSD')
box_label(2025, 369, 2085, 400, '#f23645', '', tx=2052)
fig.text(2051 / W, 1 - 377 / H, '63,688', color='white', fontsize=8.6, ha='center', va='center_baseline', zorder=7)
fig.text(2051 / W, 1 - 391 / H, '13:26:23', color='#ffd9dc', fontsize=8.6, ha='center', va='center_baseline', zorder=7)
box_label(2025, 431, 2074, 448, '#ff9800', '61,112', '#131722', tx=2051)
box_label(2025, 448, 2074, 465, '#008000', '60,848', tx=2051)
box_label(2025, 465, 2074, 482, '#5b9cf6', '59,746', '#131722', tx=2051)
box_label(2025, 482, 2074, 499, '#000000', '59,601', tx=2051)
box_label(2025, 1067, 2057, 1084, '#f7525f', '501')
box_label(2025, 1123, 2068, 1140, '#7e57c2', '61.83')
box_label(2025, 1140, 2068, 1157, '#ffeb3b', '58.01', '#131722')

fig.add_artist(Circle((1444, H - 1079), 10.5, transform=IdentityTransform(), facecolor='white', edgecolor='#9c27b0', linewidth=1.6, zorder=5))
flag(1466, 1079)
flag(1449, 1079)

# TradingView mark
fig.add_artist(Polygon([(10, H - 1220), (21, H - 1220), (21, H - 1231), (15, H - 1231), (15, H - 1225), (10, H - 1225)],
                       closed=True, transform=IdentityTransform(), facecolor='#131722', edgecolor='none', zorder=5))
fig.add_artist(Circle((23.5, H - 1222.5), 2.5, transform=IdentityTransform(), facecolor='#131722', edgecolor='none', zorder=5))
fig.add_artist(Polygon([(30, H - 1220), (26, H - 1231), (20.5, H - 1231), (25, H - 1220)], closed=True, transform=IdentityTransform(),
                       facecolor='#131722', edgecolor='none', zorder=5))
fig.text(33.5 / W, 1 - 1226 / H, 'TradingView', color='#3a3e49', fontsize=9, ha='left', va='center_baseline')

plt.savefig('out.png', dpi=100)
